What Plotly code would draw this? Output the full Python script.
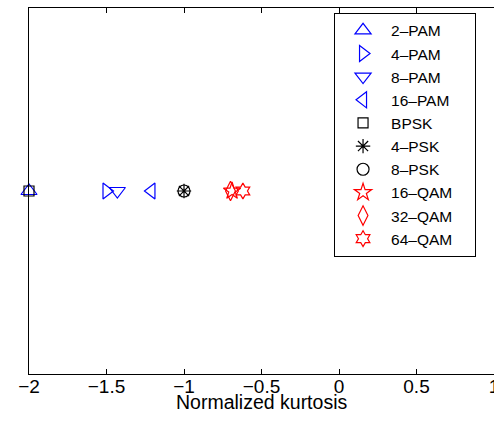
import plotly.graph_objects as go

names = ["2\u2013PAM", "4\u2013PAM", "8\u2013PAM", "16\u2013PAM", "BPSK", "4\u2013PSK", "8\u2013PSK",
         "16\u2013QAM", "32\u2013QAM", "64\u2013QAM"]
kurtosis = [-2.0, -1.5, -1.43, -1.21, -2.0, -1.0, -1.0, -0.69, -0.7, -0.62]
y_level = [0, 0, 0, 0, 0, 0, 0, 0, 0, 0]
tick_vals = [-2, -1.5, -1, -0.5, 0, 0.5, 1]
tick_text = ["\u22122", "\u22121.5", "\u22121", "\u22120.5", "0", "0.5", "1"]
x_title = "Normalized kurtosis"

symbols = ["triangle-up-open", "triangle-right-open", "triangle-down-open", "triangle-left-open",
           "square-open", "asterisk-open", "circle-open", "star-open", "diamond-tall-open", "hexagram-open"]
colors = ["#0000ff", "#0000ff", "#0000ff", "#0000ff", "#000000", "#000000", "#000000",
          "#ff0000", "#ff0000", "#ff0000"]
sizes = [14, 14, 14, 14, 10, 12, 12, 13, 14, 12]

PAD = "\u00a0" * 4  # widens legend box like the reference

fig = go.Figure()
for n, k, yv, s, c, sz in zip(names, kurtosis, y_level, symbols, colors, sizes):
    fig.add_trace(go.Scatter(
        x=[k], y=[yv], mode="markers", name=n + PAD, cliponaxis=False,
        marker=dict(symbol=s, size=sz, color=c, line=dict(color=c, width=1.2)),
    ))

family = "Liberation Sans, Arial, sans-serif"
font = dict(family=family, size=19, color="black")
fig.update_layout(
    width=494, height=425,
    margin=dict(l=29, r=0, t=8, b=51, autoexpand=False),
    paper_bgcolor="white", plot_bgcolor="white",
    font=font,
    showlegend=True,
    legend=dict(x=0.656, y=0.987, xanchor="left", yanchor="top",
                bordercolor="black", borderwidth=1, bgcolor="white",
                font=dict(family=family, size=15.5, color="black"),
                tracegroupgap=0, itemsizing="trace", itemwidth=46),
    xaxis=dict(range=[-2, 1], tickvals=tick_vals, ticktext=tick_text, automargin=False,
               ticks="inside", ticklen=5, tickcolor="black", showline=True, linecolor="black",
               linewidth=1, mirror="ticks", showgrid=False, zeroline=False,
               ticklabeloverflow="allow", ticklabelstandoff=-5, tickfont=font),
    yaxis=dict(range=[-1, 1], showticklabels=False, ticks="", showline=True, linecolor="black",
               linewidth=1, mirror=True, showgrid=False, zeroline=False, automargin=False),
    annotations=[dict(text=x_title, xref="paper", yref="paper", x=0.5, y=0,
                      xanchor="center", yanchor="middle", yshift=-28, showarrow=False,
                      font=dict(family=family, size=19.5, color="black"))],
)
fig.write_html("out.html", config={"displayModeBar": False},
               post_script="document.body.style.margin='0px';")
